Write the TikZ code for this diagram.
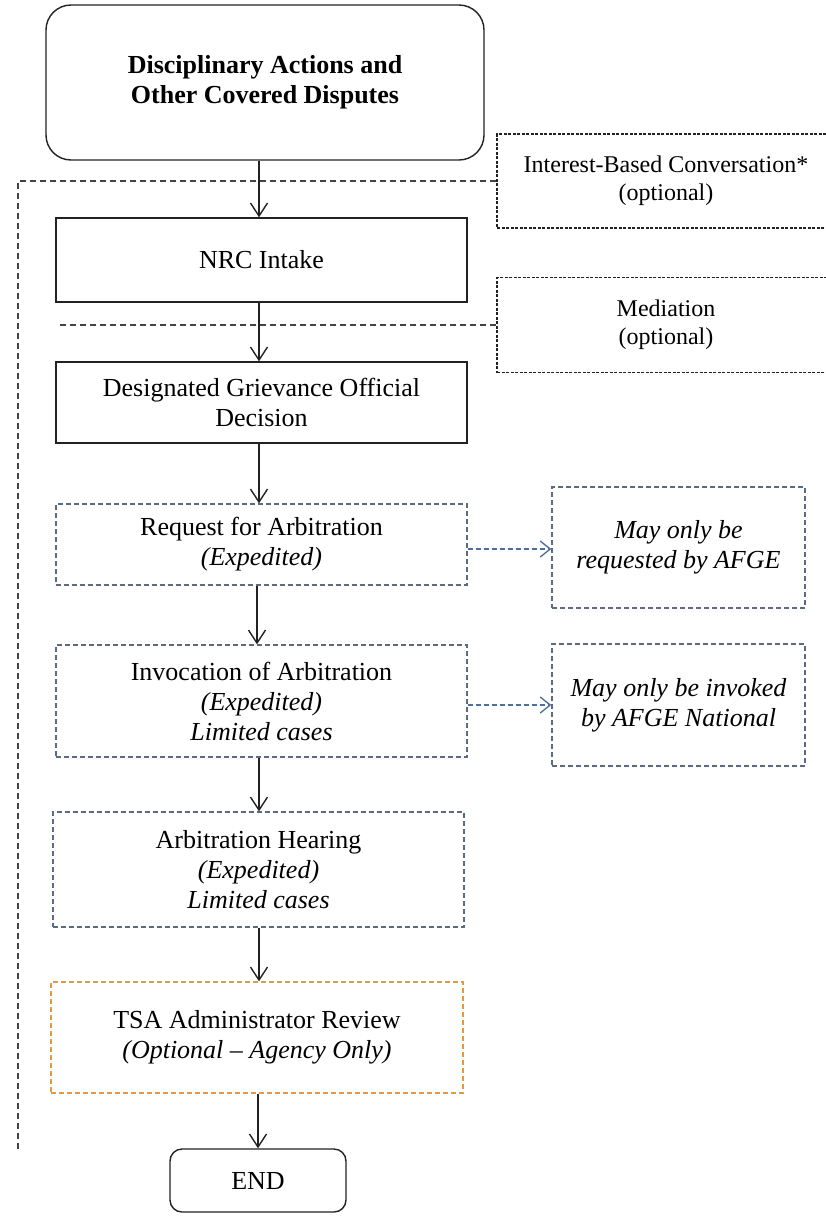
\documentclass[tikz,border=0pt]{standalone}
\usepackage{fontspec}
\setmainfont{Liberation Serif}
\usetikzlibrary{arrows.meta}
\definecolor{slate}{HTML}{5A6A84}
\definecolor{arrblue}{HTML}{4F6E9E}
\definecolor{orng}{HTML}{E39A3A}
\definecolor{ink}{HTML}{222222}
\begin{document}
\begin{tikzpicture}[x=1pt,y=-1pt,
  every node/.style={inner sep=0pt, align=center, text=black},
  mainfont/.style={font=\fontsize{26}{30}\selectfont},
  smallfont/.style={font=\fontsize{24}{28}\selectfont},
  solidbox/.style={mainfont, draw=ink, line width=1.4pt, minimum width=411pt},
  bluebox/.style={mainfont, draw=slate, line width=1.3pt, dash pattern=on 5pt off 3pt, minimum width=411pt},
  orangebox/.style={mainfont, draw=orng, line width=1.3pt, dash pattern=on 5pt off 3pt, minimum width=412pt},
  sidebox/.style={mainfont, draw=slate, line width=1.3pt, dash pattern=on 5pt off 3pt, minimum width=253pt},
  optbox/.style={smallfont, draw=ink, line width=1.2pt, dash pattern=on 3pt off 1.5pt, minimum width=338pt},
  arr/.style={draw=ink, line width=1.5pt, -{Straight Barb[length=13pt,width=17pt,line width=1.4pt]}},
  darr/.style={draw=arrblue, line width=1.4pt, dash pattern=on 5pt off 3pt, -{Straight Barb[length=10pt,width=16pt,line width=1.4pt]}},
  trail/.style={draw=ink!85, line width=1.5pt, dash pattern=on 6pt off 4pt}
]
\useasboundingbox (0,0) rectangle (825,1216);

% main column
\node[mainfont, draw=ink, line width=1.4pt, rounded corners=25pt, minimum width=438pt, minimum height=155pt]
  (top) at (265,82.5) {\textbf{Disciplinary Actions and}\\\textbf{Other Covered Disputes}};
\node[solidbox, minimum height=84pt] (nrc) at (261.5,260) {NRC Intake};
\node[solidbox, minimum height=81pt] (dgo) at (261.5,402.5) {Designated Grievance Official\\Decision};
\node[bluebox, minimum height=81pt] (req) at (261.5,544.5) {Request for Arbitration\\\textit{(Expedited)}};
\node[bluebox, minimum height=112pt] (inv) at (261.5,701) {Invocation of Arbitration\\\textit{(Expedited)}\\\textit{Limited cases}};
\node[bluebox, minimum height=115pt] (hear) at (258.5,869.5) {Arbitration Hearing\\\textit{(Expedited)}\\\textit{Limited cases}};
\node[orangebox, minimum height=111pt] (tsa) at (257,1037.5) {TSA Administrator Review\\\textit{(Optional – Agency Only)}};
\node[mainfont, draw=ink, line width=1.4pt, rounded corners=12pt, minimum width=176pt, minimum height=63pt]
  (end) at (258,1180.5) {END};

% side boxes
\node[optbox, minimum height=94pt] (ibc) at (666,181) {Interest-Based Conversation*\\(optional)};
\node[optbox, minimum height=95pt] (med) at (666,325) {Mediation\\(optional)};
\node[sidebox, minimum height=121pt] (reqside) at (678.5,547.5) {\textit{May only be}\\\textit{requested by AFGE}};
\node[sidebox, minimum height=122pt] (invside) at (678.5,705) {\textit{May only be invoked}\\\textit{by AFGE National}};

% optional dashed trails
\coordinate (c1) at (18,181);
\coordinate (c2) at (18,1152);
\coordinate (c3) at (58,325);
\draw[trail] (ibc.west) -- (c1) -- (c2);
\draw[trail] (med.west) -- (c3);

% main arrows
\draw[arr] (top.south -| nrc.north) ++(-2.5,0) coordinate (a0) -- (a0 |- nrc.north);
\draw[arr] (nrc.south) ++(-2.5,0) coordinate (a1) -- (a1 |- dgo.north);
\draw[arr] (dgo.south) ++(-2.5,0) coordinate (a2) -- (a2 |- req.north);
\draw[arr] (req.south) ++(-4.5,0) coordinate (a3) -- (a3 |- inv.north);
\draw[arr] (inv.south) ++(-2.5,0) coordinate (a4) -- (a4 |- hear.north);
\draw[arr] (hear.south) ++(0.5,0) coordinate (a5) -- (a5 |- tsa.north);
\draw[arr] (tsa.south) ++(1,0) coordinate (a6) -- (a6 |- end.north);

% side arrows
\draw[darr] (req.east |- reqside.west) ++(0,1.5) coordinate (b1) -- (b1 -| reqside.west);
\draw[darr] (inv.east |- invside.west) -- (invside.west);
\end{tikzpicture}
\end{document}
